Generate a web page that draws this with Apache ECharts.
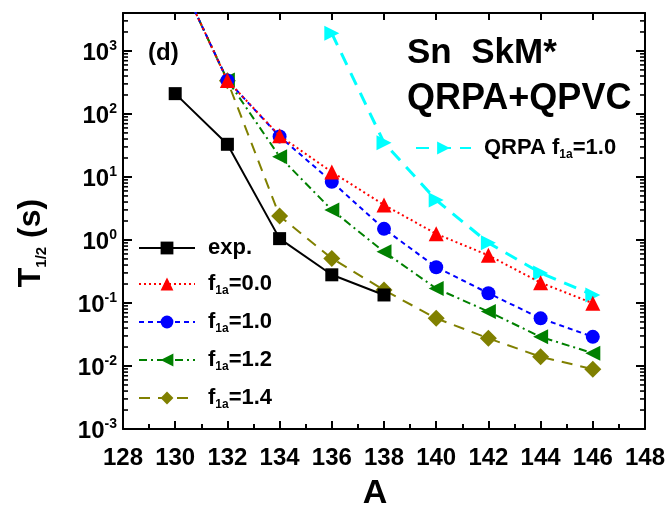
<!DOCTYPE html>
<html><head><meta charset="utf-8">
<script src="https://cdn.jsdelivr.net/npm/echarts@6/dist/echarts.min.js"></script>
<style>html,body{margin:0;padding:0;background:#fff}#c{width:670px;height:508px}</style>
</head><body><div id="c"></div>
<script>
// ---- data ----
const A_THEORY = [130, 132, 134, 136, 138, 140, 142, 144, 146];
const A_EXP = [130, 132, 134, 136, 138];
const A_QRPA = [136, 138, 140, 142, 144, 146];
const T_EXP = [210, 33, 1.05, 0.28, 0.134];
const T_F00 = [2e4, 340, 45, 12, 3.6, 1.25, 0.57, 0.21, 0.099];
const T_F10 = [2e4, 340, 44, 8.4, 1.5, 0.37, 0.143, 0.057, 0.029];
const T_F12 = [2e4, 345, 21, 3.0, 0.65, 0.17, 0.073, 0.029, 0.016];
const T_F14 = [2e4, 335, 2.4, 0.51, 0.16, 0.057, 0.0275, 0.014, 0.0089];
const T_QRPA = [1900, 35, 4.3, 0.9, 0.30, 0.134];
const X_MIN = 128, X_MAX = 148, X_STEP = 2;
const Y_MIN = 1e-3, Y_MAX = 4000;
const Y_DECADES = [-3, -2, -1, 0, 1, 2, 3];
const MINOR_MULT = [2, 3, 4, 5, 6, 7, 8, 9];

const FONT = '"Liberation Sans", Arial, sans-serif';
const pair = (xs, ys) => xs.map((x, i) => [x, ys[i]]);

const minorVals = [];
Y_DECADES.forEach(d => MINOR_MULT.forEach(m => { const v = m * Math.pow(10, d); if (v < Y_MAX) minorVals.push([X_MIN, v]); }));

const LEG = {
  'exp.': '{n|exp.}',
  'f00': '{n|f}{s|1a}{n|=0.0}',
  'f10': '{n|f}{s|1a}{n|=1.0}',
  'f12': '{n|f}{s|1a}{n|=1.2}',
  'f14': '{n|f}{s|1a}{n|=1.4}',
  'qrpa': '{n|QRPA f}{s|1a}{n|=1.0}'
};
const legRich = {
  n: {fontFamily: FONT, fontWeight: 'bold', fontSize: 22, lineHeight: 26, color: '#000'},
  s: {fontFamily: FONT, fontWeight: 'bold', fontSize: 12, lineHeight: 12, verticalAlign: 'bottom', color: '#000'}
};

function lineSeries(name, data, color, type, width, symbol, size, rot, z) {
  return {
    name, type: 'line', data, z,
    symbol, symbolSize: size, symbolRotate: rot,
    lineStyle: {color, type, width},
    itemStyle: {color},
    clip: true, animation: false
  };
}

const chart = echarts.init(document.getElementById('c'), null, {renderer: 'canvas'});
chart.setOption({
  animation: false,
  backgroundColor: '#fff',
  grid: {left: 123, right: 25, top: 13, bottom: 79, containLabel: false, outerBoundsMode: 'none'},
  title: [
    {text: '(d)', left: 148, top: 41, padding: 0, textStyle: {fontFamily: FONT, fontWeight: 'bold', fontSize: 24, color: '#000'}},
    {text: 'Sn  SkM*', left: 407, top: 36, padding: 0, textStyle: {fontFamily: FONT, fontWeight: 'bold', fontSize: 35, color: '#000'}},
    {text: 'QRPA+QPVC', left: 407, top: 81, padding: 0, textStyle: {fontFamily: FONT, fontWeight: 'bold', fontSize: 36, color: '#000'}}
  ],
  legend: [
    {
      data: ['exp.', 'f00', 'f10', 'f12', 'f14'],
      orient: 'vertical', left: 138, top: 237, padding: 0,
      itemWidth: 56, itemHeight: 16, itemGap: 14,
      formatter: n => LEG[n],
      textStyle: {rich: legRich, padding: [0, 0, 0, 8]}
    },
    {
      data: ['qrpa'],
      orient: 'horizontal', left: 415, top: 137, padding: 0,
      itemWidth: 55, itemHeight: 16,
      formatter: n => LEG[n],
      textStyle: {rich: legRich, padding: [0, 0, 0, 8]}
    }
  ],
  xAxis: [
    {
      type: 'value', min: X_MIN, max: X_MAX, interval: X_STEP, position: 'bottom',
      name: 'A', nameLocation: 'middle', nameGap: 48,
      nameTextStyle: {fontFamily: FONT, fontWeight: 'bold', fontSize: 34, color: '#000', padding: [0, 18, 0, 0]},
      axisLine: {lineStyle: {color: '#000', width: 2}},
      axisTick: {inside: true, length: 8, lineStyle: {color: '#000', width: 2}},
      minorTick: {show: true, splitNumber: 2, length: 5, lineStyle: {color: '#000', width: 2}},
      axisLabel: {fontFamily: FONT, fontWeight: 'bold', fontSize: 24, color: '#000', margin: 17},
      splitLine: {show: false}, minorSplitLine: {show: false}
    },
    {
      type: 'value', min: X_MIN, max: X_MAX, interval: X_STEP, position: 'top',
      axisLine: {lineStyle: {color: '#000', width: 2}},
      axisTick: {inside: true, length: 7, lineStyle: {color: '#000', width: 2}},
      axisLabel: {show: false}, splitLine: {show: false}
    }
  ],
  yAxis: [
    {
      type: 'log', logBase: 10, min: Y_MIN, max: Y_MAX, splitNumber: 7, position: 'left',
      name: '{n|T}{s|1/2}{n| (s)}', nameLocation: 'middle', nameGap: 74, nameRotate: 90,
      nameTextStyle: {padding: [0, 44, 0, 0], rich: {
        n: {fontFamily: FONT, fontWeight: 'bold', fontSize: 32, lineHeight: 36, color: '#000'},
        s: {fontFamily: FONT, fontWeight: 'bold', fontSize: 15, lineHeight: 15, verticalAlign: 'bottom', color: '#000'}
      }},
      axisLine: {show: true, lineStyle: {color: '#000', width: 2}},
      axisTick: {inside: true, length: 9, lineStyle: {color: '#000', width: 2}},
      axisLabel: {
        margin: 6,
        padding: [4, 0, 0, 0],
        formatter: v => {
          const l = Math.log10(v), e = Math.round(l);
          if (Math.abs(l - e) > 1e-6) return '';
          return '{b|10}{s|' + e + '}';
        },
        rich: {
          b: {fontFamily: FONT, fontWeight: 'bold', fontSize: 24, lineHeight: 28, color: '#000'},
          s: {fontFamily: FONT, fontWeight: 'bold', fontSize: 14, lineHeight: 14, verticalAlign: 'top', color: '#000'}
        }
      },
      splitLine: {show: false}
    },
    {
      type: 'log', logBase: 10, min: Y_MIN, max: Y_MAX, splitNumber: 7, position: 'right',
      axisLine: {show: true, lineStyle: {color: '#000', width: 2}},
      axisTick: {inside: true, length: 9, lineStyle: {color: '#000', width: 2}},
      axisLabel: {show: false}, splitLine: {show: false}
    }
  ],
  series: [
    {
      name: 'minorY', type: 'custom', data: minorVals, silent: true, z: 1,
      renderItem: (params, api) => {
        const p = api.coord([api.value(0), api.value(1)]);
        const cs = params.coordSys;
        const y = p[1];
        return {type: 'group', children: [
          {type: 'line', shape: {x1: cs.x, y1: y, x2: cs.x + 5, y2: y}, style: {stroke: '#000', lineWidth: 1.6}},
          {type: 'line', shape: {x1: cs.x + cs.width, y1: y, x2: cs.x + cs.width - 5, y2: y}, style: {stroke: '#000', lineWidth: 1.6}}
        ]};
      }
    },
    lineSeries('qrpa', pair(A_QRPA, T_QRPA), '#00ffff', [13, 9], 3, 'triangle', 15, -90, 2),
    lineSeries('f14', pair(A_THEORY, T_F14), '#808000', [11, 8], 2, 'diamond', 17, 0, 3),
    lineSeries('f12', pair(A_THEORY, T_F12), '#008000', [8, 4, 2, 4], 2, 'triangle', 15, 90, 4),
    lineSeries('f10', pair(A_THEORY, T_F10), '#0000ff', [5, 4], 2, 'circle', 14, 0, 5),
    lineSeries('f00', pair(A_THEORY, T_F00), '#ff0000', [2, 3], 2, 'triangle', 15, 0, 6),
    lineSeries('exp.', pair(A_EXP, T_EXP), '#000000', 'solid', 2, 'rect', 13, 0, 7)
  ]
});
</script></body></html>
